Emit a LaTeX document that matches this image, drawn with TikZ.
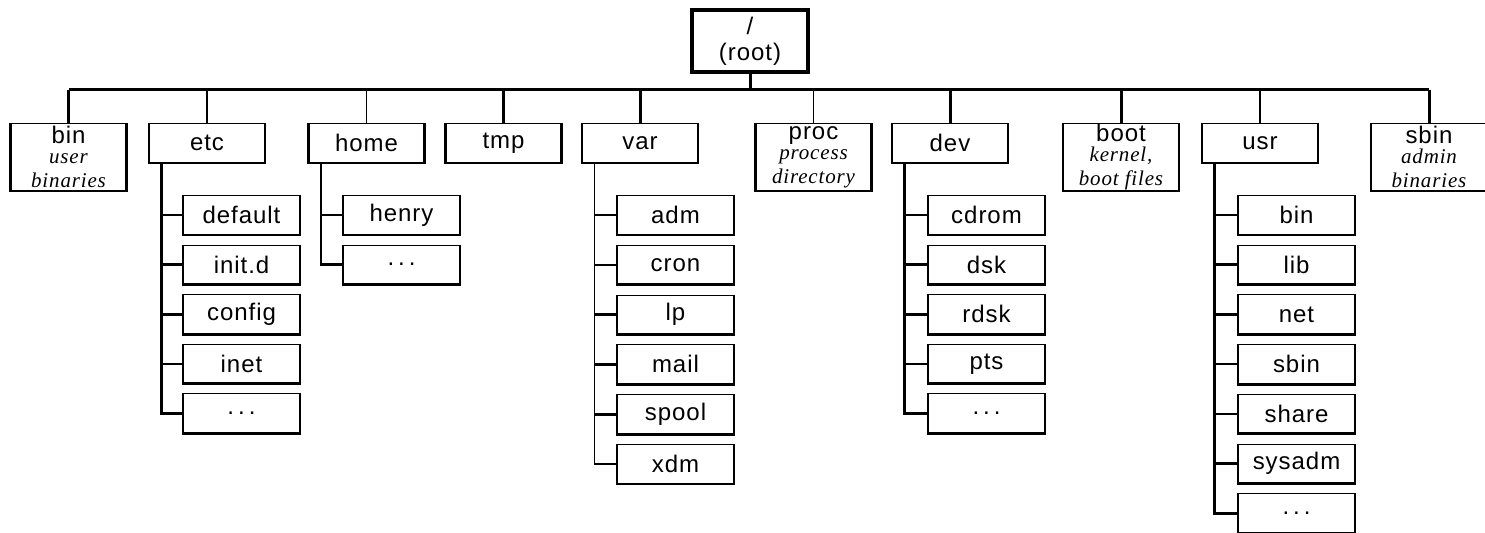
\documentclass[tikz,border=0pt]{standalone}
\usepackage{fontspec}
\setmainfont{Liberation Sans}[LetterSpace=4.0]
\newfontfamily\serifit{Liberation Serif}[LetterSpace=4.0]
\newcommand{\tdots}{.\,.\,.}
\newcommand{\subfnt}{\serifit\itshape\fontsize{10.5}{9.5}\selectfont}
\begin{document}
\begin{tikzpicture}[x=0.5pt,y=-0.5pt,
  every node/.style={inner sep=0pt, font=\fontsize{12}{12}\selectfont},
  dirbox/.style={draw, line width=0.5pt, minimum width=57.5pt, minimum height=19.5pt},
  tallbox/.style={draw, line width=0.5pt, minimum width=57.5pt, minimum height=33.5pt, align=center},
  kidbox/.style={draw, line width=0.5pt, minimum width=58pt, minimum height=19.5pt, anchor=west},
  rootbox/.style={draw, line width=1.7pt, minimum width=58pt, minimum height=31pt, align=center},
  bus/.style={line width=1.5pt},
  thickdrop/.style={line width=1.5pt},
  thindrop/.style={line width=0.6pt},
  trunk/.style={line width=1.3pt},
  stub/.style={line width=1.3pt},
  shade/.style={line width=1.4pt, line join=miter}
]
\useasboundingbox (0,0) rectangle (1485,532);
% root
\node[rootbox] (root) at (750,41) {/\\[1pt](root)};
% top row
\node[tallbox, anchor=north] (bin) at (68.5,123) {bin\\[-2pt]\subfnt user\\\subfnt binaries};
\node[dirbox, anchor=north] (etc) at (207,123) {etc};
\node[dirbox, anchor=north] (home) at (366.5,123) {home};
\node[dirbox, anchor=north] (tmp) at (503.5,123) {tmp};
\node[dirbox, anchor=north] (var) at (640,123) {var};
\node[tallbox, anchor=north] (proc) at (813.5,123) {proc\\[-2pt]\subfnt process\\\subfnt directory};
\node[dirbox, anchor=north] (dev) at (950,123) {dev};
\node[tallbox, anchor=north] (boot) at (1121,123) {boot\\[-2pt]\subfnt kernel,\\\subfnt boot files};
\node[dirbox, anchor=north] (usr) at (1260,123) {usr};
\node[tallbox, anchor=north] (sbin) at (1429,123) {sbin\\[-2pt]\subfnt admin\\\subfnt binaries};
% bus
\draw[thickdrop] (root.south) -- ++(0,16) coordinate (busY);
\draw[bus] (bin.north |- busY) -- (sbin.north |- busY);
\foreach \n in {bin,tmp,var,dev,boot,sbin}
  \draw[thickdrop] (\n.north) -- (\n.north |- busY);
\foreach \n in {etc,home,proc,usr}
  \draw[thindrop] (\n.north) -- (\n.north |- busY);
% etc children
\foreach \t [count=\i] in {default,init.d,config,inet,\tdots}
  \node[kidbox] (etc\i) at (183,{215+49.6*(\i-1)}) {\t};
\draw[trunk] (etc.south west) ++(12.5,0) coordinate (etcT) |- (etc5.west);
\foreach \i in {1,2,3,4} \draw[stub] (etc\i.west) -- (etc\i.west -| etcT);
% home children
\foreach \t [count=\i] in {henry,\tdots}
  \node[kidbox] (home\i) at (343,{215+49.6*(\i-1)}) {\t};
\draw[trunk] (home.south west) ++(12.5,0) coordinate (homeT) |- (home2.west);
\draw[stub] (home1.west) -- (home1.west -| homeT);
% var children
\foreach \t [count=\i] in {adm,cron,lp,mail,spool,xdm}
  \node[kidbox] (var\i) at (617,{215+49.8*(\i-1)}) {\t};
\draw[line width=0.8pt] (var.south west) ++(12.5,0) coordinate (varT) |- (var6.west);
\draw[stub] (var6.west) -- (var6.west -| varT);
\foreach \i in {1,2,3,4,5} \draw[stub] (var\i.west) -- (var\i.west -| varT);
% dev children
\foreach \t [count=\i] in {cdrom,dsk,rdsk,pts,\tdots}
  \node[kidbox] (dev\i) at (928,{215+49.6*(\i-1)}) {\t};
\draw[trunk] (dev.south west) ++(12.5,0) coordinate (devT) |- (dev5.west);
\foreach \i in {1,2,3,4} \draw[stub] (dev\i.west) -- (dev\i.west -| devT);
% usr children
\foreach \t [count=\i] in {bin,lib,net,sbin,share,sysadm,\tdots}
  \node[kidbox] (usr\i) at (1238,{215+49.7*(\i-1)}) {\t};
\draw[trunk] (usr.south west) ++(12.5,0) coordinate (usrT) |- (usr7.west);
\foreach \i in {1,2,3,4,5,6} \draw[stub] (usr\i.west) -- (usr\i.west -| usrT);
% heavy left/bottom/right edges of boxes
\foreach \n in {bin,etc,home,tmp,var,proc,dev,boot,usr,sbin,
  etc1,etc2,etc3,etc4,etc5,home1,home2,var1,var2,var3,var4,var5,var6,
  dev1,dev2,dev3,dev4,dev5,usr1,usr2,usr3,usr4,usr5,usr6,usr7}
  \draw[shade] (\n.north west) -- (\n.south west) -- (\n.south east) -- (\n.north east);
\end{tikzpicture}
\end{document}
